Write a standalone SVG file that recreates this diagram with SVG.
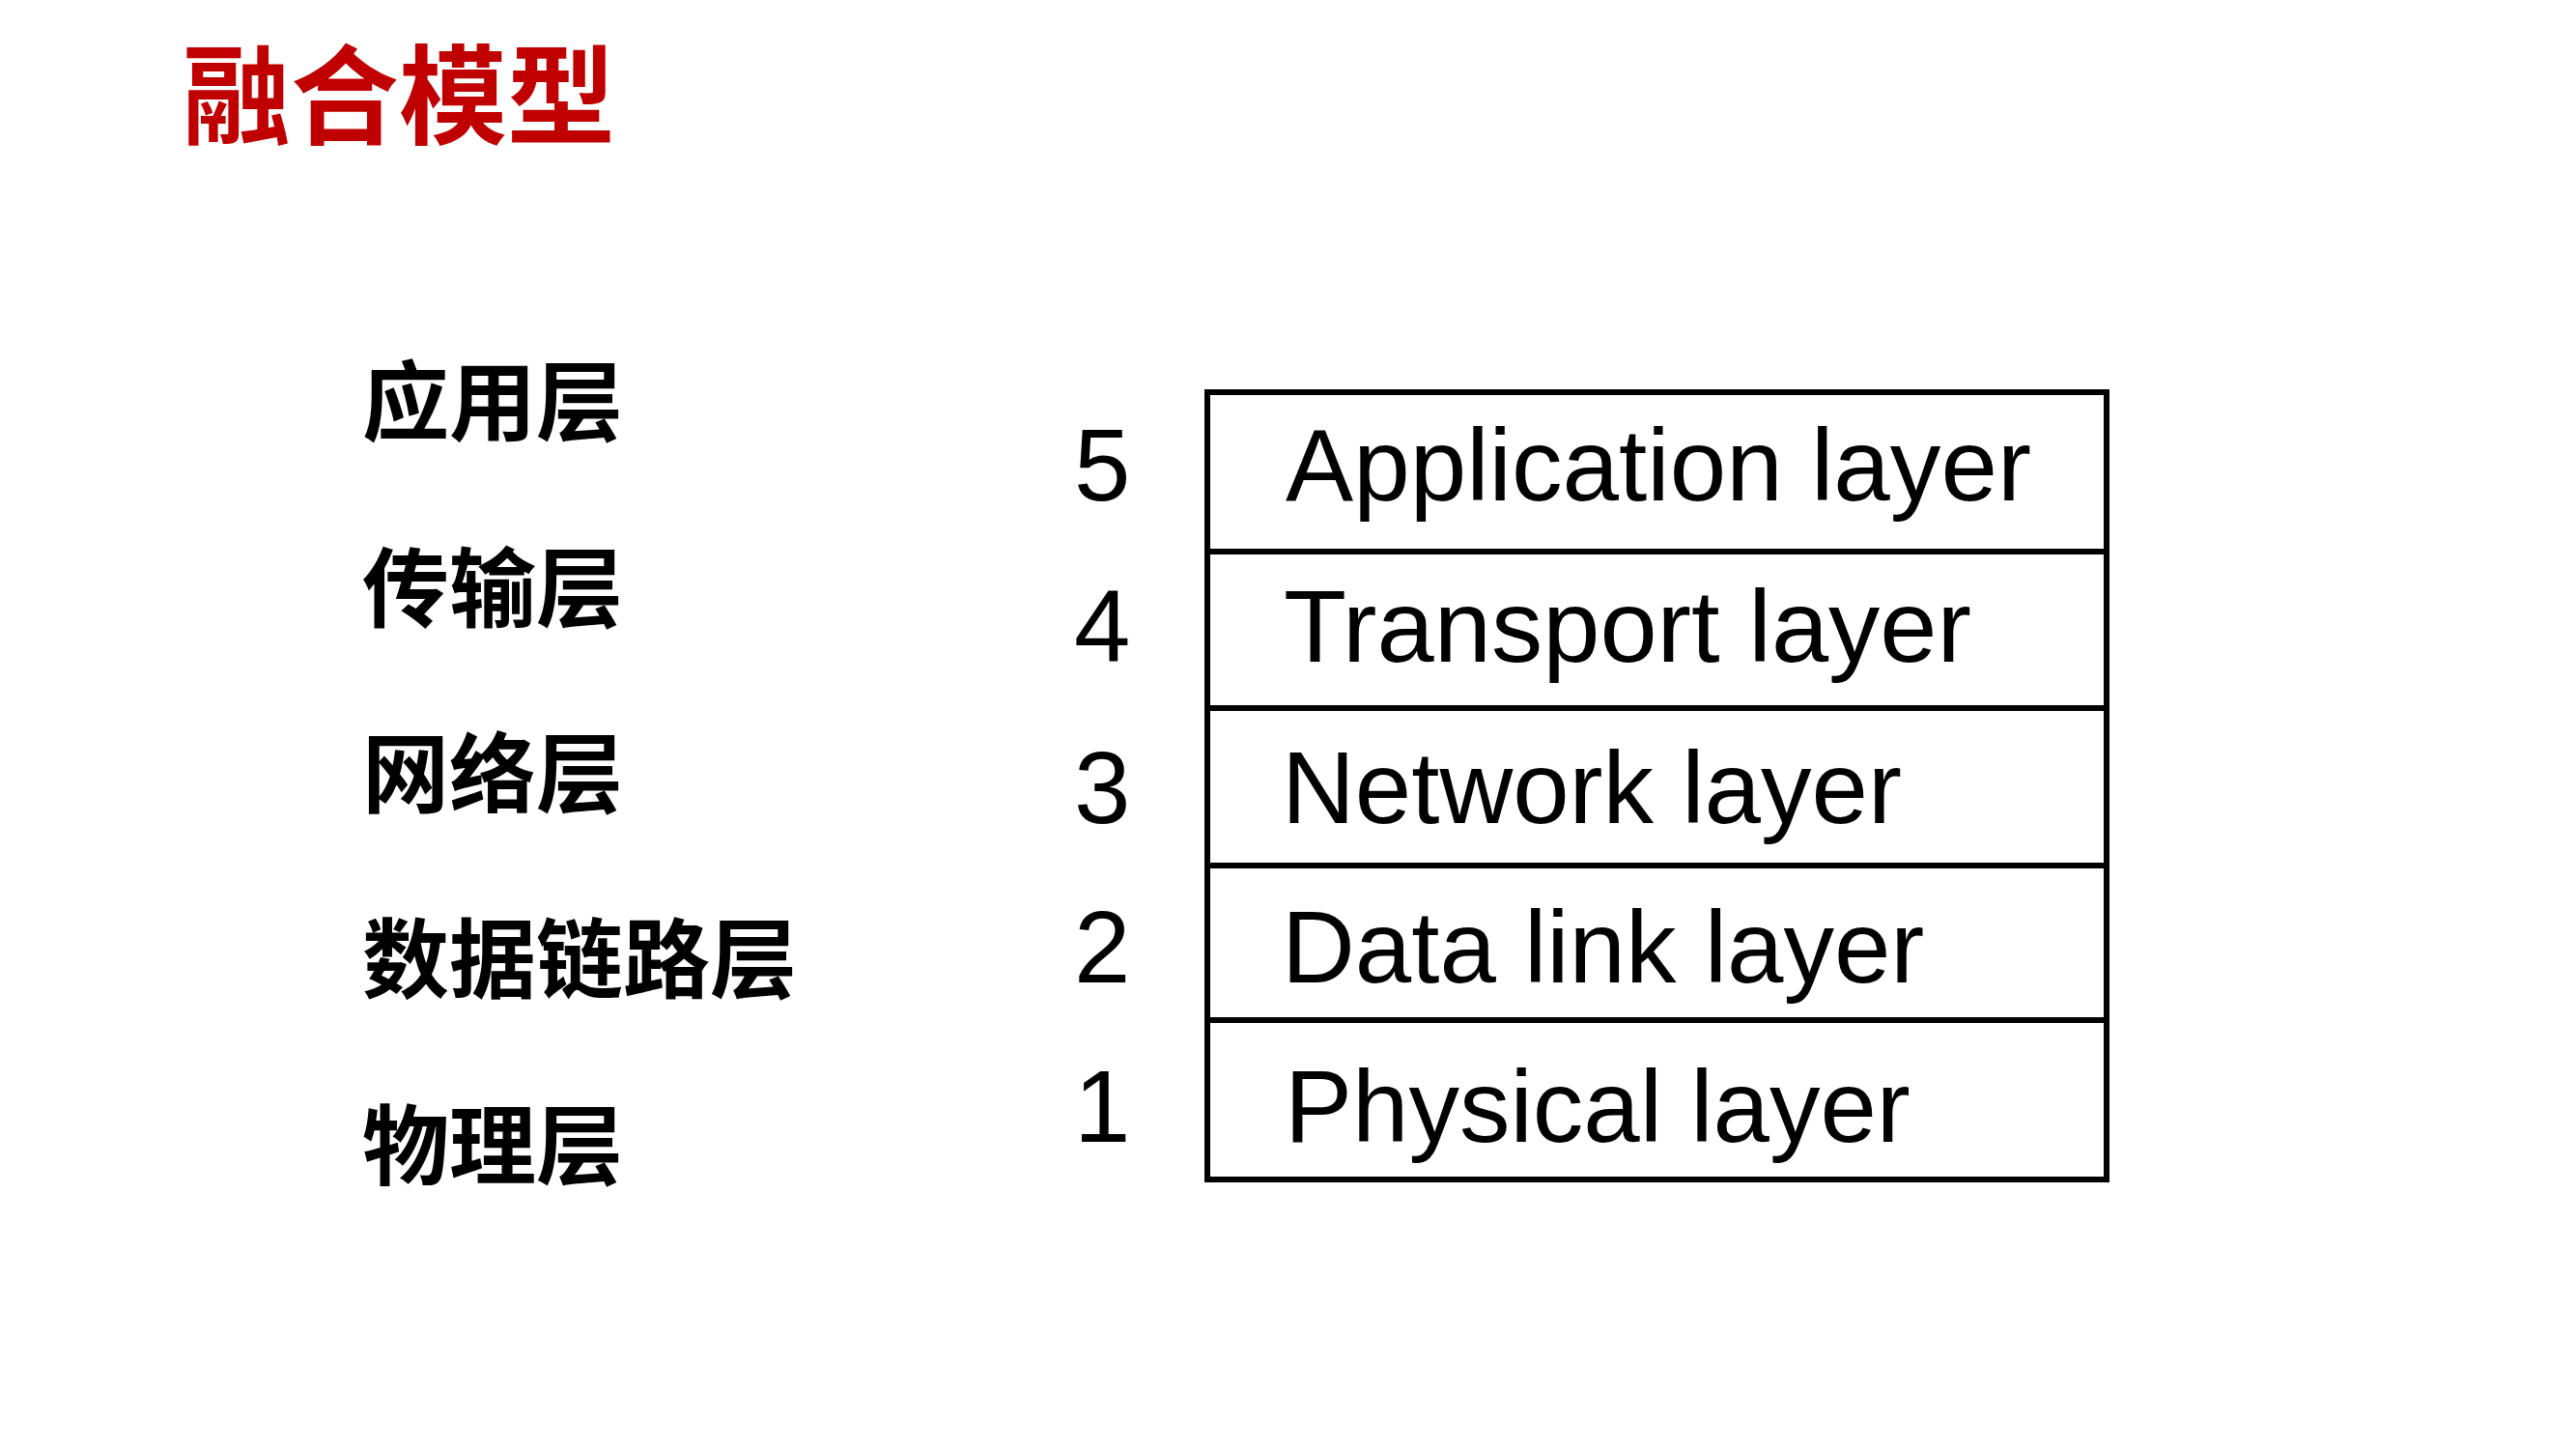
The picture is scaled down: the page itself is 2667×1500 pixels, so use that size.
<svg xmlns="http://www.w3.org/2000/svg" width="2667" height="1500" viewBox="0 0 2667 1500">
  <style>
    .title { font-family: "Noto Sans CJK SC", sans-serif; font-weight: 700; font-size: 112px; fill: #C00000; }
    .cn { font-family: "Noto Sans CJK SC", sans-serif; font-weight: 700; font-size: 90px; fill: #000; }
    .num, .en { font-family: "Liberation Sans", Arial, sans-serif; font-size: 105px; fill: #000; }
    .cell { fill: #fff; stroke: #000; stroke-width: 6; }
  </style>
  <rect width="2667" height="1500" fill="#fff"/>

  <text class="title" x="189" y="141">融合模型</text>

  <!-- Chinese layer names -->
  <g id="labels-cn">
    <text class="cn" x="375" y="449">应用层</text>
    <text class="cn" x="375" y="642">传输层</text>
    <text class="cn" x="375" y="834">网络层</text>
    <text class="cn" x="375" y="1026">数据链路层</text>
    <text class="cn" x="375" y="1219">物理层</text>
  </g>

  <!-- Five-layer stack -->
  <g id="layer5">
    <rect class="cell" x="1250" y="406" width="931" height="165"/>
    <text class="num" x="1112" y="518">5</text>
    <text class="en" x="1331" y="518" textLength="772" lengthAdjust="spacingAndGlyphs">Application layer</text>
  </g>
  <g id="layer4">
    <rect class="cell" x="1250" y="571" width="931" height="162"/>
    <text class="num" x="1112" y="685">4</text>
    <text class="en" x="1329" y="685" textLength="712" lengthAdjust="spacingAndGlyphs">Transport layer</text>
  </g>
  <g id="layer3">
    <rect class="cell" x="1250" y="733" width="931" height="163"/>
    <text class="num" x="1112" y="852">3</text>
    <text class="en" x="1327" y="852">Network layer</text>
  </g>
  <g id="layer2">
    <rect class="cell" x="1250" y="896" width="931" height="160"/>
    <text class="num" x="1112" y="1017">2</text>
    <text class="en" x="1327" y="1017">Data link layer</text>
  </g>
  <g id="layer1">
    <rect class="cell" x="1250" y="1056" width="931" height="165"/>
    <text class="num" x="1112" y="1182">1</text>
    <text class="en" x="1330" y="1182">Physical layer</text>
  </g>
</svg>
